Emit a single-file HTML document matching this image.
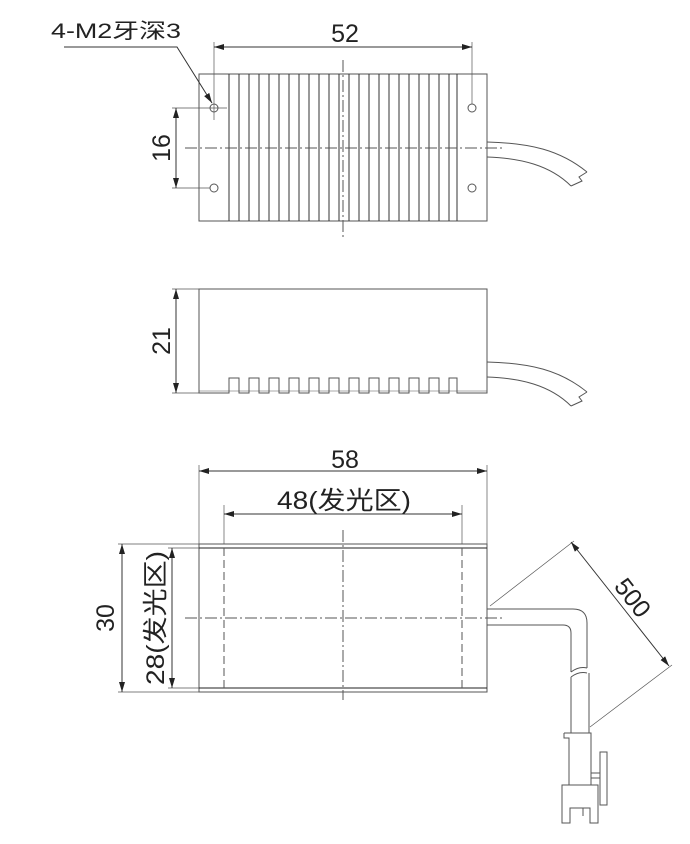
<!DOCTYPE html>
<html><head><meta charset="utf-8"><style>
html,body{margin:0;padding:0;background:#fff;}
svg{display:block;}
text{font-family:"Liberation Sans","Noto Sans CJK SC",sans-serif;fill:#222;}
</style></head><body>
<svg width="690" height="844" viewBox="0 0 690 844" xmlns="http://www.w3.org/2000/svg">
<defs>
<marker id="a" viewBox="0 0 10 6" refX="10" refY="3" markerWidth="10" markerHeight="6" orient="auto-start-reverse" markerUnits="userSpaceOnUse"><path d="M0,0 L10,3 L0,6 Z" fill="#222"/></marker>
</defs>
<g fill="none" stroke="#555" stroke-width="1">
<rect x="199" y="74" width="288" height="147"/>
<g stroke="#333">
<line x1="229" y1="74" x2="229" y2="221"/><line x1="239" y1="74" x2="239" y2="221"/>
<line x1="249" y1="74" x2="249" y2="221"/><line x1="259" y1="74" x2="259" y2="221"/>
<line x1="269" y1="74" x2="269" y2="221"/><line x1="279" y1="74" x2="279" y2="221"/>
<line x1="289" y1="74" x2="289" y2="221"/><line x1="299" y1="74" x2="299" y2="221"/>
<line x1="309" y1="74" x2="309" y2="221"/><line x1="319" y1="74" x2="319" y2="221"/>
<line x1="329" y1="74" x2="329" y2="221"/><line x1="339" y1="74" x2="339" y2="221"/>
<line x1="349" y1="74" x2="349" y2="221"/><line x1="359" y1="74" x2="359" y2="221"/>
<line x1="369" y1="74" x2="369" y2="221"/><line x1="379" y1="74" x2="379" y2="221"/>
<line x1="389" y1="74" x2="389" y2="221"/><line x1="399" y1="74" x2="399" y2="221"/>
<line x1="409" y1="74" x2="409" y2="221"/><line x1="419" y1="74" x2="419" y2="221"/>
<line x1="429" y1="74" x2="429" y2="221"/><line x1="439" y1="74" x2="439" y2="221"/>
<line x1="449" y1="74" x2="449" y2="221"/><line x1="457" y1="74" x2="457" y2="221"/>
</g>
<circle cx="214" cy="108" r="4"/><circle cx="214" cy="188" r="4"/>
<circle cx="472" cy="108" r="4"/><circle cx="472" cy="188" r="4"/>
<line x1="185" y1="148" x2="505" y2="148" stroke-dasharray="12,3,2,3"/>
<line x1="343" y1="60" x2="343" y2="237" stroke-dasharray="12,3,2,3"/>
<line x1="214" y1="42" x2="214" y2="120" stroke-width="0.7"/>
<line x1="472" y1="42" x2="472" y2="104" stroke-width="0.7"/>
<line x1="214" y1="47" x2="472" y2="47" marker-start="url(#a)" marker-end="url(#a)" stroke="#333"/>
<line x1="172" y1="108" x2="227" y2="108" stroke-width="0.7"/>
<line x1="172" y1="188" x2="210" y2="188" stroke-width="0.7"/>
<line x1="176" y1="108" x2="176" y2="188" marker-start="url(#a)" marker-end="url(#a)" stroke="#333"/>
<polyline points="64,47 177,47 212,103" stroke="#333" marker-end="url(#a)"/>
<path d="M487,142 C530,143 560,150 587,172"/>
<path d="M487,157 C520,158 550,165 571,186"/>
<path d="M587,172 L579,177 L582,181 L571,186"/>
<path d="M199,289 H487 V393 H457 V378 H449 V393 H439 V378 H429 V393 H419 V378 H409 V393 H399 V378 H389 V393 H379 V378 H369 V393 H359 V378 H349 V393 H339 V378 H329 V393 H319 V378 H309 V393 H299 V378 H289 V393 H279 V378 H269 V393 H259 V378 H249 V393 H239 V378 H229 V393 H199 Z"/>
<line x1="199" y1="391" x2="487" y2="391" stroke-width="0.6"/>
<line x1="172" y1="289" x2="199" y2="289" stroke-width="0.7"/>
<line x1="172" y1="393" x2="199" y2="393" stroke-width="0.7"/>
<line x1="176" y1="289" x2="176" y2="393" marker-start="url(#a)" marker-end="url(#a)" stroke="#333"/>
<path d="M487,362 C530,363 560,370 587,392"/>
<path d="M487,377 C520,378 550,385 571,406"/>
<path d="M587,392 L579,397 L582,401 L571,406"/>
<rect x="199" y="544" width="288" height="148"/>
<line x1="199" y1="548" x2="487" y2="548" stroke="#222"/>
<line x1="199" y1="688" x2="487" y2="688" stroke="#222"/>
<line x1="224" y1="505" x2="224" y2="544" stroke-width="0.7"/>
<line x1="462" y1="505" x2="462" y2="544" stroke-width="0.7"/>
<line x1="224" y1="548" x2="224" y2="688" stroke-dasharray="8,4"/>
<line x1="462" y1="548" x2="462" y2="688" stroke-dasharray="8,4"/>
<line x1="199" y1="465" x2="199" y2="544" stroke-width="0.7"/>
<line x1="487" y1="465" x2="487" y2="544" stroke-width="0.7"/>
<line x1="199" y1="471" x2="487" y2="471" marker-start="url(#a)" marker-end="url(#a)" stroke="#333"/>
<line x1="224" y1="514" x2="462" y2="514" marker-start="url(#a)" marker-end="url(#a)" stroke="#333"/>
<line x1="185" y1="618" x2="505" y2="618" stroke-dasharray="12,3,2,3"/>
<line x1="343" y1="530" x2="343" y2="700" stroke-dasharray="12,3,2,3"/>
<line x1="118" y1="544" x2="199" y2="544" stroke-width="0.7"/>
<line x1="118" y1="692" x2="199" y2="692" stroke-width="0.7"/>
<line x1="168" y1="548" x2="199" y2="548" stroke-width="0.7"/>
<line x1="168" y1="688" x2="199" y2="688" stroke-width="0.7"/>
<line x1="122" y1="544" x2="122" y2="692" marker-start="url(#a)" marker-end="url(#a)" stroke="#333"/>
<line x1="172" y1="548" x2="172" y2="688" marker-start="url(#a)" marker-end="url(#a)" stroke="#333"/>
<path d="M487,609 H573 Q587,609 587,623 V668"/>
<path d="M487,625 H563 Q571,625 571,633 V672"/>
<path d="M571,672 Q579,666 587,668" />
<path d="M571,677 Q579,671 587,673" />
<path d="M571,677 V733 M589,673 V733"/>
<path d="M564,733 H591 V785 M564,733 V738 H569 V785"/>
<path d="M562,785 H598 V823 H590 V808 H570 V823 H562 Z"/>
<line x1="583" y1="808" x2="583" y2="816"/>
<path d="M600,752 H607 V805 H600 Z"/>
<line x1="591" y1="773" x2="600" y2="773"/><line x1="591" y1="778" x2="600" y2="778"/>
<line x1="490" y1="606" x2="574" y2="541" stroke-width="0.7"/>
<line x1="590" y1="727" x2="672" y2="665" stroke-width="0.7"/>
<line x1="571" y1="542" x2="669" y2="666" marker-start="url(#a)" marker-end="url(#a)" stroke="#333"/>
</g>
<g font-size="25">
<text x="51" y="38" font-size="21" textLength="130" lengthAdjust="spacingAndGlyphs">4-M2牙深3</text>
<text x="345" y="42" text-anchor="middle">52</text>
<text transform="translate(170,148) rotate(-90)" text-anchor="middle">16</text>
<text transform="translate(170,341) rotate(-90)" text-anchor="middle">21</text>
<text x="345" y="468" text-anchor="middle">58</text>
<text x="344" y="509" text-anchor="middle" textLength="134" lengthAdjust="spacingAndGlyphs">48(发光区)</text>
<text transform="translate(114,618) rotate(-90)" text-anchor="middle">30</text>
<text transform="translate(164,618) rotate(-90)" text-anchor="middle" textLength="134" lengthAdjust="spacingAndGlyphs">28(发光区)</text>
<text transform="translate(626,603) rotate(52)" text-anchor="middle">500</text>
</g>
</svg>
</body></html>
